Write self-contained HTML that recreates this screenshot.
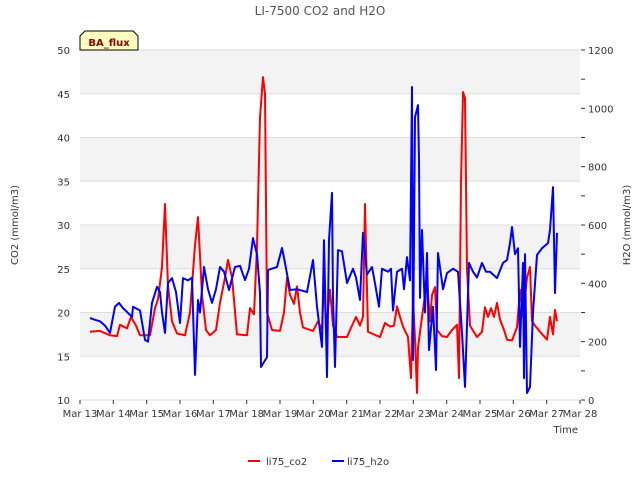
<!DOCTYPE html>
<html><head><meta charset="utf-8"><style>
body{margin:0;background:#fff;}
svg{font-family:"DejaVu Sans","Liberation Sans",sans-serif;}
</style></head><body>
<svg id="chart" width="640" height="480" viewBox="0 0 640 480" xmlns="http://www.w3.org/2000/svg">
<g id="bands"></g><g id="axes"></g><g id="series"></g>
<text x="320" y="15" text-anchor="middle" font-size="12" fill="#555">LI-7500 CO2 and H2O</text>
<text transform="translate(18,225) rotate(-90)" text-anchor="middle" font-size="10" fill="#333">CO2 (mmol/m3)</text>
<text transform="translate(630,225) rotate(-90)" text-anchor="middle" font-size="10" fill="#333">H2O (mmol/m3)</text>
<text x="578" y="433" text-anchor="end" font-size="10" fill="#333">Time</text>
<g>
<path d="M80,50 L80,36 L85,31 L133,31 L138,36 L138,50 Z" fill="#ffffc0" stroke="#000" stroke-width="1"/>
<text x="109" y="46" text-anchor="middle" font-size="10" font-weight="bold" fill="#8b0000">BA_flux</text>
</g>
<g>
<line x1="248" y1="461" x2="260" y2="461" stroke="#f00" stroke-width="2"/>
<text x="266" y="465" font-size="10" fill="#333">li75_co2</text>
<line x1="332" y1="461" x2="344" y2="461" stroke="#00f" stroke-width="2"/>
<text x="347" y="465" font-size="10" fill="#333">li75_h2o</text>
</g>
</svg>
<script>
const xTickLabels=["Mar 13","Mar 14","Mar 15","Mar 16","Mar 17","Mar 18","Mar 19","Mar 20","Mar 21","Mar 22","Mar 23","Mar 24","Mar 25","Mar 26","Mar 27","Mar 28"];
const yTicks=[10,15,20,25,30,35,40,45,50];
const y2Ticks=[0,200,400,600,800,1000,1200];
const co2Days=[.3,.6,.9,1.11,1.2,1.41,1.53,1.68,1.8,2.1,2.25,2.34,2.46,2.55,2.64,2.76,2.91,3.15,3.3,3.45,3.54,3.66,3.78,3.9,4.08,4.2,4.35,4.44,4.56,4.71,5.01,5.1,5.22,5.31,5.4,5.49,5.55,5.61,5.76,6.0,6.12,6.21,6.3,6.42,6.51,6.6,6.69,6.99,7.14,7.26,7.32,7.38,7.5,7.59,7.71,8.01,8.16,8.28,8.4,8.49,8.55,8.64,9.0,9.15,9.3,9.42,9.51,9.6,9.69,9.84,9.93,9.99,10.05,10.11,10.14,10.26,10.35,10.41,10.5,10.56,10.65,10.71,10.86,11.01,11.16,11.31,11.37,11.43,11.49,11.55,11.61,11.7,11.91,12.06,12.15,12.24,12.33,12.42,12.51,12.6,12.72,12.81,12.96,13.11,13.2,13.29,13.41,13.5,13.56,13.65,13.8,14.01,14.1,14.19,14.25,14.31];
const co2Vals=[17.8,17.9,17.4,17.3,18.6,18.2,19.5,18.5,17.4,17.4,20.5,21.5,25.2,32.4,23,19,17.6,17.4,20,27.7,30.9,22,18,17.4,18,21.1,24,26,24,17.5,17.4,20.5,19.8,27.5,42.3,46.9,45,20,18,17.9,20,24,22,21,23,20,18.3,17.9,19,18,24.5,18,22.6,18.5,17.2,17.2,18.5,19.5,18.5,19.5,32.4,17.8,17.2,18.8,18.4,18.5,20.7,19.5,18.4,17.2,12.5,21.6,17,10.8,16,19.5,22,23.7,19,22,22.9,18,17.3,17.2,18,18.6,12.5,34.8,45.2,44.5,24.9,18.5,17.2,17.8,20.6,19.5,20.5,19.5,21.1,19.2,18,16.9,16.8,18.3,22.6,19.5,24,25.2,19,18.5,17.8,16.9,19.5,17.5,20.3,19];
const h2oDays=[.3,.45,.6,.75,.9,1.05,1.17,1.29,1.41,1.56,1.59,1.8,1.95,2.04,2.16,2.31,2.4,2.46,2.55,2.64,2.76,2.88,3.0,3.09,3.24,3.36,3.45,3.54,3.6,3.72,3.84,3.96,4.08,4.2,4.32,4.47,4.65,4.8,4.95,5.07,5.19,5.31,5.4,5.43,5.61,5.64,5.91,6.06,6.15,6.3,6.51,6.81,6.99,7.11,7.26,7.32,7.41,7.47,7.56,7.59,7.65,7.74,7.86,8.01,8.19,8.28,8.4,8.49,8.61,8.76,8.85,8.97,9.06,9.24,9.33,9.39,9.51,9.66,9.72,9.81,9.9,9.96,9.99,10.05,10.14,10.17,10.2,10.26,10.35,10.41,10.47,10.59,10.68,10.74,10.89,11.01,11.19,11.34,11.46,11.55,11.67,11.79,11.91,12.06,12.18,12.3,12.51,12.69,12.81,12.9,12.96,13.05,13.14,13.2,13.29,13.32,13.35,13.41,13.5,13.59,13.71,13.86,14.04,14.1,14.19,14.25,14.31];
const h2oVals=[281,275,270,255,230,320,333,315,302,285,320,307,206,200,333,388,370,300,230,401,418,370,264,418,410,420,86,343,300,456,380,333,380,456,440,377,456,460,411,450,555,500,367,113,147,446,456,521,470,377,380,370,480,320,182,548,79,548,710,350,113,514,510,401,450,420,343,573,430,456,400,320,450,440,450,307,440,450,380,490,410,1073,137,970,1011,820,350,583,300,504,171,320,103,504,380,435,450,440,230,45,470,440,420,470,440,440,418,470,480,538,593,500,520,182,470,75,500,24,45,300,497,520,538,583,730,367,573];
const L=80,R=580,T=50,B=400;
const xS=d=>L+d*(R-L)/15;
const yS=v=>B-(v-10)*(B-T)/40;
const y2S=v=>B-v*(B-T)/1200;
const NS="http://www.w3.org/2000/svg";
function mk(parent,tag,attrs){const e=document.createElementNS(NS,tag);for(const k in attrs)e.setAttribute(k,attrs[k]);document.getElementById(parent).appendChild(e);return e;}
for(let i=0;i<yTicks.length-1;i++){
  const r=mk('bands','rect',{x:L,y:yS(yTicks[i+1]),width:R-L,height:yS(yTicks[i])-yS(yTicks[i+1]),fill:(i%2==1)?'#f3f3f3':'#fff'});
  
  
}
yTicks.forEach(v=>{
  const g=mk('axes','line',{x1:L,x2:R,y1:yS(v),y2:yS(v),stroke:'#ddd','stroke-width':1});
  
  
  const t=mk('axes','text',{x:L-10,y:yS(v)+4,'text-anchor':'end','font-size':10,fill:'#333'});
  t.textContent=v;
  
  
});
for(let v=0;v<=1200;v+=100){
  const m=mk('axes','line',{x1:R+1,x2:R+5,y1:y2S(v),y2:y2S(v),stroke:'#333','stroke-width':1});
  
  
}
y2Ticks.forEach(v=>{
  const t=mk('axes','text',{x:R+8,y:y2S(v)+4,'text-anchor':'start','font-size':10,fill:'#333'});
  t.textContent=v;
  
  
});
xTickLabels.forEach((s,i)=>{
  const m=mk('axes','line',{x1:xS(i),x2:xS(i),y1:B,y2:B+4,stroke:'#333','stroke-width':1});
  
  
  const t=mk('axes','text',{x:xS(i),y:B+17,'text-anchor':'middle','font-size':10,fill:'#333'});
  t.textContent=s;
  
  
});
const pc=co2Days.map((d,i)=>xS(d).toFixed(1)+','+yS(co2Vals[i]).toFixed(1)).join(' ');
const ph=h2oDays.map((d,i)=>xS(d).toFixed(1)+','+y2S(h2oVals[i]).toFixed(1)).join(' ');
const lc=mk('series','polyline',{points:pc,fill:'none',stroke:'#f00','stroke-width':2,'stroke-linejoin':'round'});


const lh=mk('series','polyline',{points:ph,fill:'none',stroke:'#00f','stroke-width':2,'stroke-linejoin':'round'});


</script>
</body></html>
